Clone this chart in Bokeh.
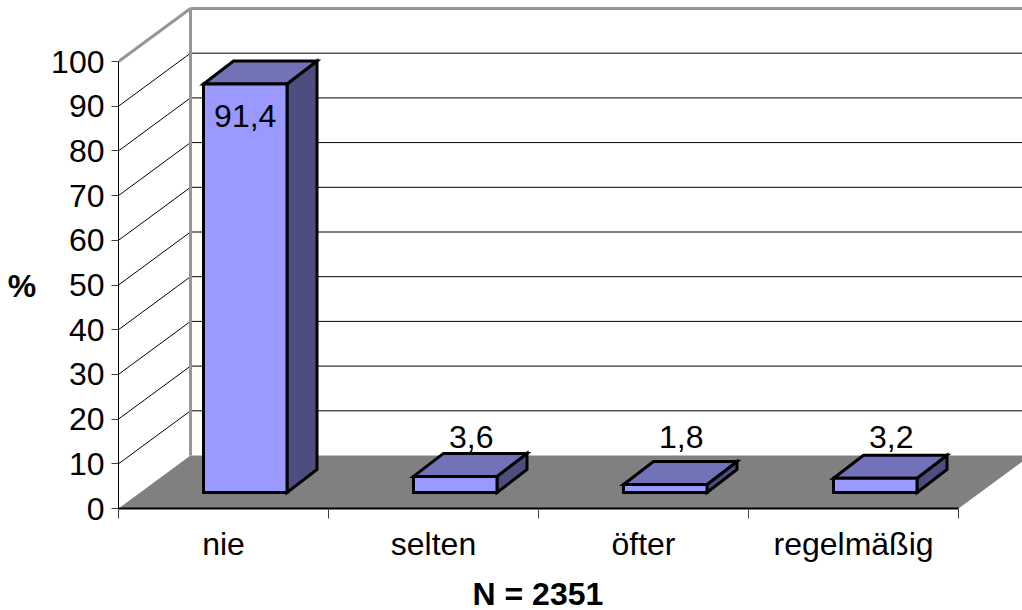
from bokeh.plotting import figure
from bokeh.embed import file_html
from bokeh.resources import INLINE
from bokeh.models import FixedTicker, ColumnDataSource, Title
from bokeh.core.properties import value

categories = ["nie", "selten", "öfter", "regelmäßig"]
values = [91.4, 3.6, 1.8, 3.2]
y_ticks = list(range(0, 101, 10))
x_title = "N = 2351"
y_title = "%"

PX_X, PX_Y = 210.0, 4.47        # pixels per data unit
FRAME_W, FRAME_H = 904, 508
DX, DY = 72 / PX_X, 53 / PX_Y   # depth of the wall/floor
BDX, BDY = 30 / PX_X, 23 / PX_Y # depth of a bar
BAR_L, BAR_W = 85 / PX_X, 83.5 / PX_X
BASE = 16 / PX_Y                # front-bottom edge of bars above the axis zero
FONT = "Liberation Sans"
FS = "32px"

x_max, y_max = FRAME_W / PX_X, FRAME_H / PX_Y
p = figure(width=1022, height=610, frame_width=FRAME_W, frame_height=FRAME_H,
           output_backend="svg", toolbar_location=None,
           x_range=(0, x_max), y_range=(0, y_max),
           min_border_left=118, min_border_right=0, min_border_top=0, min_border_bottom=102,
           outline_line_color=None)
p.grid.visible = False
p.background_fill_color = "white"

# floor
p.patch([0, 4, 4 + DX, DX], [0, 0, DY, DY], fill_color="#808080", line_color=None)

# side-wall and back-wall grid lines
for t in y_ticks[1:]:
    if t < 100:
        p.line([0, DX], [t, t + DY], line_color="black", line_width=1)
        p.line([DX, x_max], [t + DY, t + DY], line_color="black", line_width=1)
p.line([0, DX], [100, 100 + DY], line_color="#969696", line_width=3)
p.line([DX, x_max], [100 + DY, 100 + DY], line_color="#969696", line_width=3)
p.line([DX, DX], [DY, 100 + DY], line_color="#969696", line_width=3)

# bars
for i, v in enumerate(values):
    x0 = i + BAR_L
    x1 = x0 + BAR_W
    y0 = BASE
    y1 = BASE + v
    style = dict(line_color="black", line_width=3, line_join="miter")
    p.patch([x1, x1 + BDX, x1 + BDX, x1], [y0, y0 + BDY, y1 + BDY, y1], fill_color="#4D4D80", **style)
    p.patch([x0, x1, x1 + BDX, x0 + BDX], [y1, y1, y1 + BDY, y1 + BDY], fill_color="#7272B8", **style)
    p.patch([x0, x1, x1, x0], [y0, y0, y1, y1], fill_color="#9999FF", **style)

# value labels
lab_x = [i + BAR_L + BAR_W / 2 + (0 if v > 50 else 16 / PX_X) for i, v in enumerate(values)]
lab_y = [87.9 if v > 50 else 15.9 for v in values]
lab_t = [f"{v:.1f}".replace(".", ",") for v in values]
p.text(x="x", y="y", text="t", source=ColumnDataSource(dict(x=lab_x, y=lab_y, t=lab_t)),
       text_font=value(FONT), text_font_size=FS, text_color="black",
       text_align="center", text_baseline="middle")

# axes
xa = p.xaxis[0]
xa.ticker = FixedTicker(ticks=[i + 0.5 for i in range(4)], minor_ticks=list(range(5)))
xa.major_label_overrides = {i + 0.5: c for i, c in enumerate(categories)}
xa.bounds = (0, 4)
xa.major_tick_out = 0
xa.major_tick_in = 0
xa.minor_tick_out = 10
xa.minor_tick_in = 0
xa.minor_tick_line_color = "#404040"
xa.axis_line_color = "black"
xa.axis_line_width = 2
xa.major_label_text_font = FONT
xa.major_label_text_font_size = FS
xa.major_label_text_font_style = "normal"
xa.major_label_text_color = "black"
xa.major_label_standoff = 7

p.add_layout(Title(text=x_title, align="left", offset=354, standoff=18,
                   text_font=FONT, text_font_size=FS, text_font_style="bold",
                   text_color="black", text_line_height=0.4), "below")

ya = p.yaxis[0]
ya.ticker = FixedTicker(ticks=y_ticks)
ya.bounds = (0, 100)
ya.major_tick_out = 7
ya.major_tick_in = 0
ya.minor_tick_out = 0
ya.minor_tick_in = 0
ya.major_tick_line_color = "#404040"
ya.axis_line_color = "black"
ya.axis_line_width = 1
ya.major_label_text_font = FONT
ya.major_label_text_font_size = FS
ya.major_label_text_color = "black"
ya.major_label_standoff = 7
ya.axis_label = "\n" + y_title
ya.axis_label_orientation = "horizontal"
ya.axis_label_text_font = FONT
ya.axis_label_text_font_size = FS
ya.axis_label_text_font_style = "bold"
ya.axis_label_text_color = "black"
ya.axis_label_text_line_height = 1.73
ya.axis_label_standoff = 12

open("out.html", "w").write(file_html(p, INLINE))
